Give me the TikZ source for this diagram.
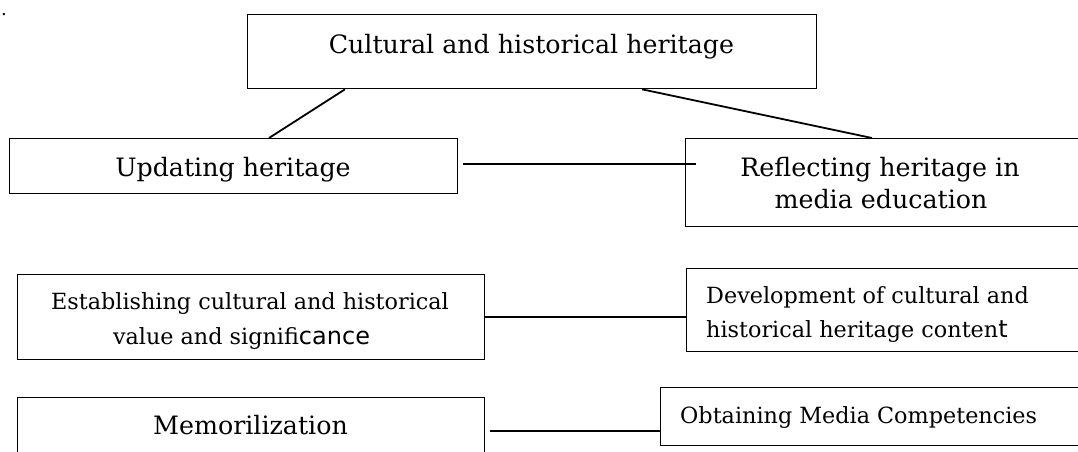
\documentclass[tikz,border=0pt]{standalone}
\usepackage{fontspec}
\setmainfont{DejaVu Serif}
\newfontfamily\altsans{DejaVu Sans}
\usetikzlibrary{calc}
\begin{document}
\begin{tikzpicture}[x=1pt,y=-1pt,
  box/.style={draw=black, line width=1.3pt, inner sep=0pt, anchor=north west},
  link/.style={draw=black, line width=1.8pt},
  bigtxt/.style={inner sep=0pt, font=\fontsize{25.3}{32}\selectfont},
  smalltxt/.style={inner sep=0pt, font=\fontsize{22.3}{34}\selectfont}]
\useasboundingbox (0,0) rectangle (1078,451);
\fill[white] (0,0) rectangle (1078,451);
\clip (0,0) rectangle (1078,451);
% boxes
\node[box, minimum width=569pt, minimum height=74pt] (top) at (247,14) {};
\node[box, minimum width=448pt, minimum height=55pt] (upd) at (9,138) {};
\node[box, minimum width=420pt, minimum height=88pt] (refl) at (685,138) {};
\node[box, minimum width=467pt, minimum height=85pt] (est) at (17,274) {};
\node[box, minimum width=420pt, minimum height=83pt] (dev) at (686,268) {};
\node[box, minimum width=467pt, minimum height=80pt] (mem) at (17,397) {};
\node[box, minimum width=440pt, minimum height=58pt] (obt) at (660,387) {};
% texts
\node[inner sep=0pt, anchor=base, font=\fontsize{18}{18}\selectfont] (dot) at (4,15) {.};
\node[bigtxt, anchor=base] (ttop) at (531.5,53) {Cultural and historical heritage};
\node[bigtxt, anchor=base] (tupd) at (233,176) {Updating heritage};
\node[bigtxt, anchor=base] (trefl1) at (880,176) {Reflecting heritage in};
\node[bigtxt, anchor=base] (trefl2) at (881,208) {media education};
\node[smalltxt, anchor=base] (test1) at (250,309) {Establishing cultural and historical};
\node[smalltxt, anchor=base] (test2) at (241.5,344) {value and signifi{\altsans\fontsize{24}{34}\selectfont cance}};
\node[smalltxt, anchor=base west] (tdev1) at (706,303) {Development of cultural and};
\node[smalltxt, anchor=base west] (tdev2) at (706,337) {historical heritage conten{\altsans\fontsize{24}{34}\selectfont t}};
\node[bigtxt, anchor=base] (tmem) at (250.5,434) {Memorilization};
\node[smalltxt, anchor=base west] (tobt) at (680,423) {Obtaining Media Competencies};
% connectors
\draw[link] ([xshift=98pt]top.south west) -- ([xshift=260pt]upd.north west);
\draw[link] ([xshift=395pt]top.south west) -- ([xshift=187pt]refl.north west);
\coordinate (h1) at ($(upd.east)+(5,-2.5)$);
\coordinate (h2) at ($(refl.west)+(11,-19)$);
\draw[link] (h1) -- (h2);
\draw[link] (est.east) -- (est.east -| dev.west);
\coordinate (m1) at ($(mem.east)+(5,-7)$);
\draw[link] (m1) -- (m1 -| obt.west);
\end{tikzpicture}
\end{document}
